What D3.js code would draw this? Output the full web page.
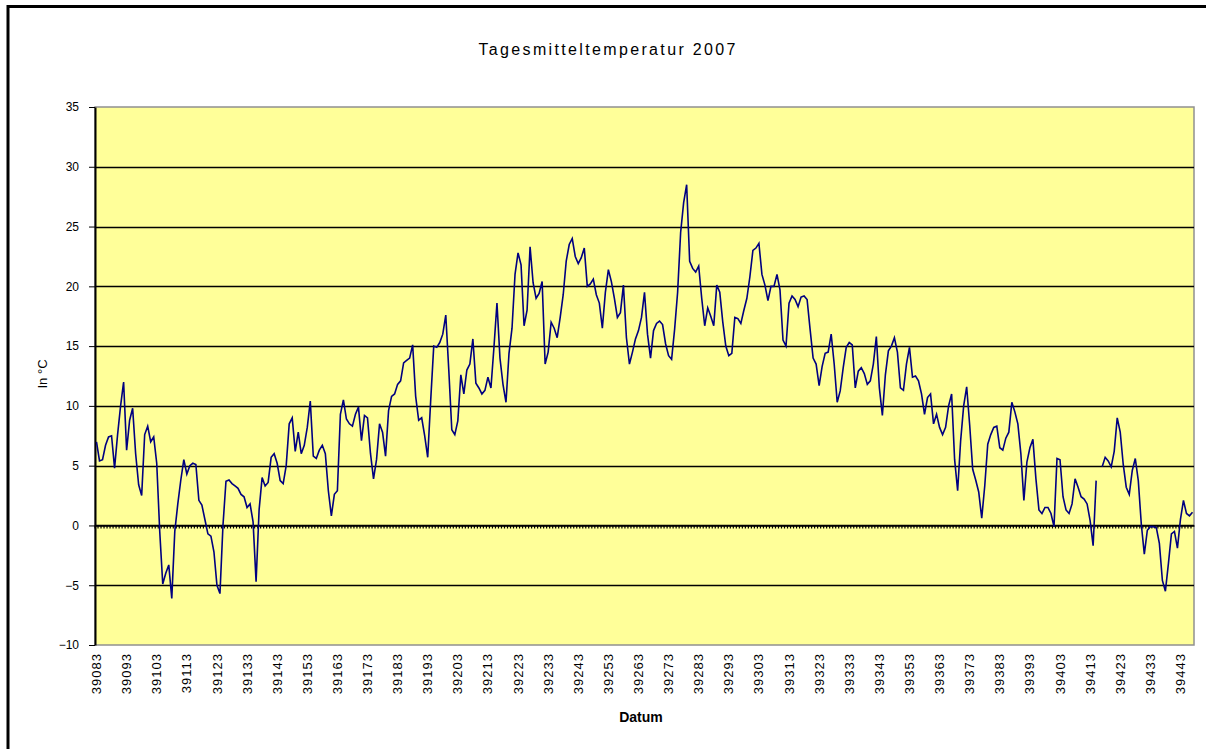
<!DOCTYPE html>
<html lang="de">
<head>
  <meta charset="UTF-8">
  <title>Tagesmitteltemperatur 2007</title>
  <script src="https://d3js.org/d3.v7.min.js"></script>
  <style>
    body { margin: 0; background: #fff; }
    svg text { font-family: "Liberation Sans", Arial, sans-serif; fill: #000; }
  </style>
</head>
<body>
<div id="chart"></div>
<script>
  // Excel date serials, one per day of 2007
  const firstDay = 39083;
  const days = d3.range(firstDay, firstDay + 365);
  const tickLabels = d3.range(39083, 39444, 10);
  const yTicks = [-10, -5, 0, 5, 10, 15, 20, 25, 30, 35];

  // daily mean temperature in °C (null = missing day)
  const temps = [
    7.0, 5.4, 5.5, 6.7, 7.4, 7.5, 4.8, 7.6, 10.0, 12.0,
    6.3, 8.8, 9.8, 6.0, 3.4, 2.5, 7.6, 8.3, 7.0, 7.4,
    5.2, -0.5, -4.9, -4.0, -3.3, -6.1, -0.5, 1.8, 3.8, 5.5,
    4.3, 5.0, 5.2, 5.1, 2.1, 1.7, 0.5, -0.7, -0.9, -2.2,
    -5.0, -5.7, 0.0, 3.7, 3.8, 3.5, 3.3, 3.1, 2.6, 2.4,
    1.5, 1.8, 0.3, -4.7, 1.3, 4.0, 3.3, 3.6, 5.7, 6.0,
    5.2, 3.75, 3.5, 5.0, 8.5, 9.0, 6.2, 7.8, 6.0, 6.7,
    8.2, 10.4, 5.8, 5.6, 6.3, 6.7, 6.0, 2.9, 0.8, 2.6,
    2.9, 9.3, 10.5, 8.9, 8.5, 8.3, 9.3, 9.9, 7.1, 9.2,
    9.0, 6.0, 3.9, 5.5, 8.5, 7.8, 5.8, 9.6, 10.8, 11.0,
    11.8, 12.1, 13.6, 13.8, 14.0, 15.1, 10.8, 8.8, 9.0, 7.5,
    5.7, 10.5, 15.0, 14.9, 15.3, 16.0, 17.6, 13.0, 8.0, 7.6,
    8.75, 12.6, 11.0, 13.0, 13.5, 15.6, 11.9, 11.5, 11.0, 11.3,
    12.4, 11.5, 14.9, 18.6, 14.0, 11.8, 10.3, 14.4, 16.5, 21.0,
    22.8, 21.8, 16.7, 18.0, 23.3, 20.3, 19.0, 19.4, 20.4, 13.5,
    14.5, 17.0, 16.5, 15.7, 17.4, 19.3, 22.1, 23.5, 24.0, 22.5,
    21.9, 22.4, 23.2, 20.0, 20.2, 20.6, 19.3, 18.6, 16.5, 19.5,
    21.4, 20.4, 19.0, 17.4, 17.8, 20.1, 15.7, 13.5, 14.5, 15.6,
    16.3, 17.4, 19.5, 16.0, 14.0, 16.3, 16.9, 17.1, 16.8, 15.2,
    14.2, 13.9, 16.4, 19.5, 24.5, 27.0, 28.5, 22.1, 21.5, 21.2,
    21.7, 19.0, 16.7, 18.2, 17.5, 16.7, 20.1, 19.5, 17.0, 15.0,
    14.2, 14.4, 17.4, 17.3, 16.9, 18.0, 19.0, 20.8, 23.0, 23.2,
    23.6, 21.0, 20.1, 18.8, 20.0, 20.0, 21.0, 19.7, 15.5, 15.0,
    18.6, 19.2, 18.9, 18.3, 19.1, 19.2, 18.9, 16.4, 14.0, 13.5,
    11.7, 13.3, 14.4, 14.5, 16.0, 13.5, 10.3, 11.25, 13.2, 14.9,
    15.3, 15.1, 11.5, 12.9, 13.2, 12.7, 11.8, 12.1, 13.5, 15.8,
    11.5, 9.2, 12.6, 14.6, 15.0, 15.7, 14.5, 11.5, 11.3, 13.5,
    14.9, 12.4, 12.5, 12.1, 11.0, 9.3, 10.7, 11.0, 8.5, 9.3,
    8.2, 7.6, 8.2, 10.0, 11.0, 5.5, 2.9, 7.1, 10.0, 11.6,
    8.4, 4.7, 3.8, 2.8, 0.6, 3.3, 6.8, 7.6, 8.2, 8.3,
    6.5, 6.3, 7.3, 7.8, 10.3, 9.5, 8.5, 6.0, 2.1, 5.3,
    6.5, 7.2, 3.9, 1.3, 1.0, 1.5, 1.5, 1.0, -0.1, 5.6,
    5.5, 2.4, 1.3, 1.0, 1.8, 3.9, 3.2, 2.4, 2.2, 1.8,
    0.4, -1.7, 3.75, null, 4.9, 5.7, 5.4, 4.9, 6.2, 9.0,
    7.8, 5.1, 3.2, 2.6, 4.6, 5.6, 3.75, 0.1, -2.4, -0.4,
    -0.1, -0.1, -0.2, -1.5, -4.6, -5.5, -3.2, -0.7, -0.5, -1.9,
    0.5, 2.1, 1.0, 0.8, 1.1
  ];

  const width = 1206, height = 749;
  const plot = { left: 95, right: 1194, top: 107, bottom: 645 };

  const svg = d3.select('#chart').append('svg')
    .attr('width', width)
    .attr('height', height);

  // outer chart frame (only top and left visible in the picture)
  svg.append('path')
    .attr('d', `M8,${height + 10}V6.5H${width + 10}`)
    .attr('fill', 'none')
    .attr('stroke', '#000')
    .attr('stroke-width', 3);

  const x = d3.scaleBand()
    .domain(days)
    .range([plot.left, plot.right]);

  const y = d3.scaleLinear()
    .domain([-10, 35])
    .range([plot.bottom, plot.top]);

  // plot area
  svg.append('rect')
    .attr('x', plot.left)
    .attr('y', plot.top)
    .attr('width', plot.right - plot.left)
    .attr('height', plot.bottom - plot.top)
    .attr('fill', '#ffff99')
    .attr('stroke', '#909090')
    .attr('stroke-width', 1.5);

  // gridlines
  svg.append('g')
    .selectAll('line')
    .data(yTicks.filter(d => d !== -10 && d !== 35))
    .enter()
    .append('line')
    .attr('x1', plot.left)
    .attr('x2', plot.right)
    .attr('y1', d => Math.round(y(d)) + 0.5)
    .attr('y2', d => Math.round(y(d)) + 0.5)
    .attr('stroke', '#000')
    .attr('stroke-width', 1.3);

  // y axis
  const yAxis = svg.append('g')
    .attr('transform', `translate(${plot.left},0)`)
    .call(d3.axisLeft(y).tickValues(yTicks).tickSize(6).tickPadding(10).tickSizeOuter(0));
  yAxis.select('.domain').attr('stroke', '#000').attr('stroke-width', 2);
  yAxis.selectAll('text').style('font-size', '12px');

  // category axis crossing at 0 with a tick between every day
  const zeroAxis = svg.append('g')
    .attr('transform', `translate(0,${Math.round(y(0)) + 0.5})`)
    .call(d3.axisBottom(x).tickValues(days).tickSize(3).tickFormat('').tickSizeOuter(0));
  zeroAxis.select('.domain').attr('stroke', '#000').attr('stroke-width', 1.5);
  zeroAxis.selectAll('.tick line')
    .attr('stroke', '#000')
    .attr('stroke-width', 1.2)
    .attr('transform', `translate(${-x.bandwidth() / 2},0)`);

  // date labels under the plot
  const xAxis = svg.append('g')
    .attr('transform', `translate(0,${plot.bottom})`)
    .call(d3.axisBottom(x).tickValues(tickLabels).tickSize(0).tickSizeOuter(0));
  xAxis.select('.domain').remove();
  xAxis.selectAll('text')
    .style('font-size', '13px')
    .style('letter-spacing', '1px')
    .attr('transform', 'rotate(-90)')
    .attr('x', -8)
    .attr('y', 0)
    .attr('dy', '0.35em')
    .style('text-anchor', 'end');

  // temperature line
  const line = d3.line()
    .defined(d => d.t !== null)
    .x(d => x(d.day) + x.bandwidth() / 2)
    .y(d => y(d.t));

  svg.append('path')
    .datum(days.map((day, i) => ({ day, t: temps[i] })))
    .attr('d', line)
    .attr('fill', 'none')
    .attr('stroke', '#000080')
    .attr('stroke-width', 1.6);

  // titles
  svg.append('text')
    .attr('x', 607)
    .attr('y', 55)
    .attr('text-anchor', 'middle')
    .attr('textLength', 257)
    .attr('lengthAdjust', 'spacing')
    .style('font-size', '16px')
    .text('Tagesmitteltemperatur 2007');

  svg.append('text')
    .attr('transform', 'translate(47,374) rotate(-90)')
    .attr('text-anchor', 'middle')
    .style('font-size', '13px')
    .text('In °C');

  svg.append('text')
    .attr('x', 641)
    .attr('y', 722)
    .attr('text-anchor', 'middle')
    .style('font-size', '14px')
    .style('font-weight', 'bold')
    .text('Datum');
</script>
</body>
</html>
